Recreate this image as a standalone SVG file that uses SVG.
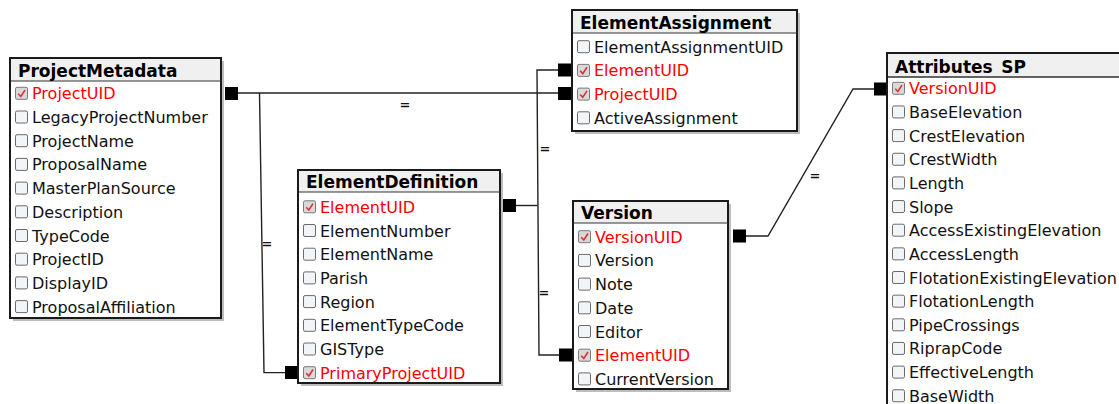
<svg xmlns="http://www.w3.org/2000/svg" width="1119" height="404" viewBox="0 0 1119 404">
<style>
.shadow{fill:#bdbdbd}
.box{fill:#fff;stroke:#1a1a1a;stroke-width:2}
.bar{fill:#f0f0f0}
.sep{stroke:#333;stroke-width:1.2}
.title{font-family:"DejaVu Sans",Verdana,sans-serif;font-weight:bold;font-size:17px;fill:#000}
.f{font-family:"DejaVu Sans",Verdana,sans-serif;font-size:16px;fill:#111}
.k{fill:#ff0000}
.cb{fill:#f2f5f8;stroke:#6a6a6a;stroke-width:1}
.cbk{fill:#d9d9d9;stroke:#7a7a7a;stroke-width:1}
.chk{fill:none;stroke:#e03030;stroke-width:1.6}
.conn{fill:none;stroke:#222;stroke-width:1.4}
.mk{fill:#000}
.eq{font-family:"DejaVu Sans",sans-serif;font-size:13px;font-weight:bold;fill:#111;text-anchor:middle}
</style>
<defs>
<g id="cbo"><rect class="cb" x="0.5" y="-6" width="12" height="12" rx="1.5"/></g>
<g id="cbx"><rect class="cbk" x="0.5" y="-6" width="12" height="12" rx="1.5"/><path class="chk" d="M3.2,0.5 L5.8,3.2 L10,-3.2"/></g>
<clipPath id="asclip"><rect x="888" y="54" width="231" height="19.6"/></clipPath>
</defs>

<g id="connectors">
<polyline class="conn" points="238,93 558,93"/>
<polyline class="conn" points="259.5,93 264,372.6 285,372.6"/>
<polyline class="conn" points="516,205.5 537.5,205.5"/>
<polyline class="conn" points="558,70 537,70 539,355 559,355"/>
<polyline class="conn" points="745,236 768,236 853,89 874,89"/>
<rect class="mk" x="225" y="87" width="13" height="13"/>
<rect class="mk" x="558" y="87" width="14" height="13"/>
<rect class="mk" x="558" y="63.5" width="14" height="13"/>
<rect class="mk" x="503" y="199" width="13" height="13"/>
<rect class="mk" x="559" y="348.5" width="14" height="13"/>
<rect class="mk" x="285" y="366" width="13" height="13"/>
<rect class="mk" x="733" y="229.5" width="13" height="13"/>
<rect class="mk" x="874" y="82.5" width="13" height="13"/>
<text class="eq" x="405" y="109">=</text>
<text class="eq" x="267" y="248">=</text>
<text class="eq" x="545" y="153">=</text>
<text class="eq" x="544" y="297">=</text>
<text class="eq" x="815" y="180">=</text>
</g>

<g id="ProjectMetadata">
<rect class="shadow" x="13" y="61" width="211" height="260"/>
<rect class="box" x="10" y="58" width="211" height="260"/>
<rect class="bar" x="11" y="59" width="209" height="22"/>
<line class="sep" x1="11" y1="81" x2="221" y2="81"/>
<text class="title" x="18" y="77">ProjectMetadata</text>
<use href="#cbx" x="15" y="93.3"/><text class="f k" x="32" y="99.3">ProjectUID</text>
<use href="#cbo" x="15" y="117"/><text class="f" x="32" y="123">LegacyProjectNumber</text>
<use href="#cbo" x="15" y="140.7"/><text class="f" x="32" y="146.7">ProjectName</text>
<use href="#cbo" x="15" y="164.4"/><text class="f" x="32" y="170.4">ProposalName</text>
<use href="#cbo" x="15" y="188.1"/><text class="f" x="32" y="194.1">MasterPlanSource</text>
<use href="#cbo" x="15" y="211.8"/><text class="f" x="32" y="217.8">Description</text>
<use href="#cbo" x="15" y="235.5"/><text class="f" x="32" y="241.5">TypeCode</text>
<use href="#cbo" x="15" y="259.2"/><text class="f" x="32" y="265.2">ProjectID</text>
<use href="#cbo" x="15" y="282.9"/><text class="f" x="32" y="288.9">DisplayID</text>
<use href="#cbo" x="15" y="306.6"/><text class="f" x="32" y="312.6">ProposalAffiliation</text>
</g>

<g id="ElementDefinition">
<rect class="shadow" x="301" y="173" width="202" height="213"/>
<rect class="box" x="298" y="170" width="202" height="213"/>
<rect class="bar" x="299" y="171" width="200" height="21"/>
<line class="sep" x1="299" y1="192" x2="500" y2="192"/>
<text class="title" x="306" y="188">ElementDefinition</text>
<use href="#cbx" x="303" y="206.8"/><text class="f k" x="320" y="212.8">ElementUID</text>
<use href="#cbo" x="303" y="230.5"/><text class="f" x="320" y="236.5">ElementNumber</text>
<use href="#cbo" x="303" y="254.2"/><text class="f" x="320" y="260.2">ElementName</text>
<use href="#cbo" x="303" y="277.9"/><text class="f" x="320" y="283.9">Parish</text>
<use href="#cbo" x="303" y="301.6"/><text class="f" x="320" y="307.6">Region</text>
<use href="#cbo" x="303" y="325.3"/><text class="f" x="320" y="331.3">ElementTypeCode</text>
<use href="#cbo" x="303" y="349"/><text class="f" x="320" y="355">GISType</text>
<use href="#cbx" x="303" y="372.7"/><text class="f k" x="320" y="378.7">PrimaryProjectUID</text>
</g>

<g id="ElementAssignment">
<rect class="shadow" x="575" y="13" width="225" height="121"/>
<rect class="box" x="572" y="10" width="225" height="121"/>
<rect class="bar" x="573" y="11" width="223" height="22"/>
<line class="sep" x1="573" y1="33" x2="797" y2="33"/>
<text class="title" x="580" y="29">ElementAssignment</text>
<use href="#cbo" x="577" y="46.7"/><text class="f" x="594" y="52.7">ElementAssignmentUID</text>
<use href="#cbx" x="577" y="70.4"/><text class="f k" x="594" y="76.4">ElementUID</text>
<use href="#cbx" x="577" y="94.1"/><text class="f k" x="594" y="100.1">ProjectUID</text>
<use href="#cbo" x="577" y="117.8"/><text class="f" x="594" y="123.8">ActiveAssignment</text>
</g>

<g id="Version">
<rect class="shadow" x="576" y="204" width="155" height="188"/>
<rect class="box" x="573" y="201" width="155" height="188"/>
<rect class="bar" x="574" y="202" width="153" height="21"/>
<line class="sep" x1="574" y1="223" x2="728" y2="223"/>
<text class="title" x="581" y="219">Version</text>
<use href="#cbx" x="578" y="236.7"/><text class="f k" x="595" y="242.7">VersionUID</text>
<use href="#cbo" x="578" y="260.4"/><text class="f" x="595" y="266.4">Version</text>
<use href="#cbo" x="578" y="284.1"/><text class="f" x="595" y="290.1">Note</text>
<use href="#cbo" x="578" y="307.8"/><text class="f" x="595" y="313.8">Date</text>
<use href="#cbo" x="578" y="331.5"/><text class="f" x="595" y="337.5">Editor</text>
<use href="#cbx" x="578" y="355.2"/><text class="f k" x="595" y="361.2">ElementUID</text>
<use href="#cbo" x="578" y="378.9"/><text class="f" x="595" y="384.9">CurrentVersion</text>
</g>

<g id="Attributes_SP">
<rect class="box" x="887" y="53" width="260" height="400"/>
<rect class="bar" x="888" y="54" width="231" height="23"/>
<text class="title" x="895" y="72.5" clip-path="url(#asclip)">Attributes_SP</text>
<line class="sep" x1="888" y1="77" x2="1119" y2="77" style="stroke-width:1.6"/>
<use href="#cbx" x="892" y="88.3"/><text class="f k" x="909" y="94.3">VersionUID</text>
<use href="#cbo" x="892" y="111.95"/><text class="f" x="909" y="117.95">BaseElevation</text>
<use href="#cbo" x="892" y="135.6"/><text class="f" x="909" y="141.6">CrestElevation</text>
<use href="#cbo" x="892" y="159.25"/><text class="f" x="909" y="165.25">CrestWidth</text>
<use href="#cbo" x="892" y="182.9"/><text class="f" x="909" y="188.9">Length</text>
<use href="#cbo" x="892" y="206.55"/><text class="f" x="909" y="212.55">Slope</text>
<use href="#cbo" x="892" y="230.2"/><text class="f" x="909" y="236.2">AccessExistingElevation</text>
<use href="#cbo" x="892" y="253.85"/><text class="f" x="909" y="259.85">AccessLength</text>
<use href="#cbo" x="892" y="277.5"/><text class="f" x="909" y="283.5">FlotationExistingElevation</text>
<use href="#cbo" x="892" y="301.15"/><text class="f" x="909" y="307.15">FlotationLength</text>
<use href="#cbo" x="892" y="324.8"/><text class="f" x="909" y="330.8">PipeCrossings</text>
<use href="#cbo" x="892" y="348.45"/><text class="f" x="909" y="354.45">RiprapCode</text>
<use href="#cbo" x="892" y="372.1"/><text class="f" x="909" y="378.1">EffectiveLength</text>
<use href="#cbo" x="892" y="395.75"/><text class="f" x="909" y="401.75">BaseWidth</text>
</g>
</svg>
